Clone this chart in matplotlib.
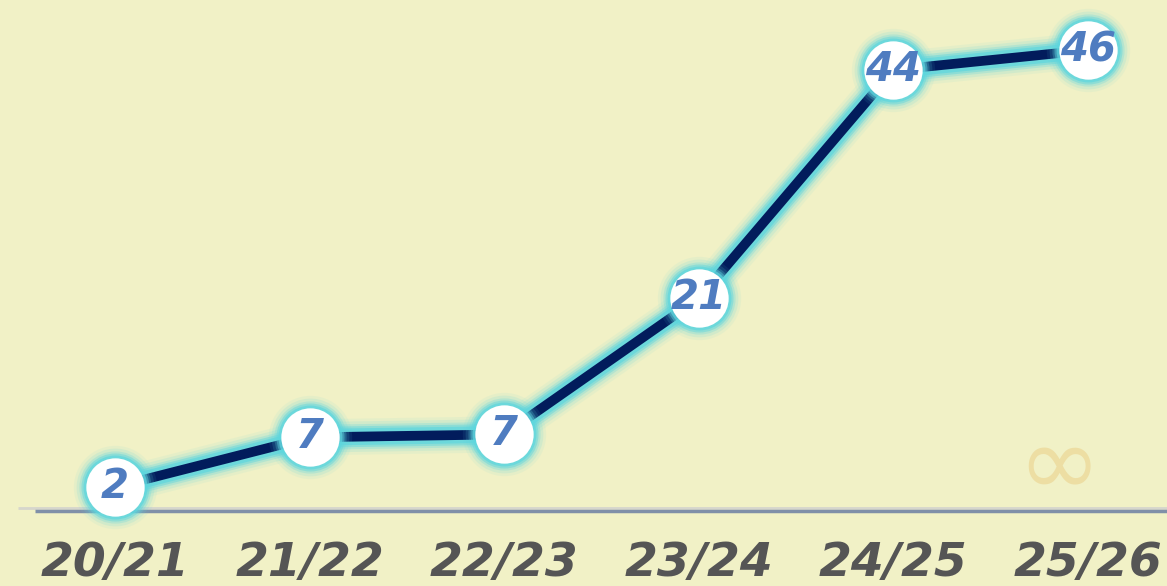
import matplotlib.pyplot as plt

# season data
seasons = ['20/21', '21/22', '22/23', '23/24', '24/25', '25/26']
values = [2, 7, 7.3, 21, 44, 46]
value_labels = ['2', '7', '7', '21', '44', '46']

bg = '#F1F1C6'
glow = '#5ED6DE'
navy = '#021C5C'
label_blue = '#4F7CC0'

fig = plt.figure(figsize=(11.67, 5.86), dpi=100)
fig.patch.set_facecolor(bg)
ax = fig.add_axes([0, 0, 1, 1])
ax.set_facecolor(bg)
ax.set_xlim(-0.591, 5.406)
ax.set_ylim(-7.97, 51.05)
ax.axis('off')

x = list(range(len(seasons)))

# axis lines
ax.plot([-0.50, 5.5], [-0.1, -0.1], color='#D6D6CC', lw=2, solid_capstyle='butt', zorder=1)
ax.plot([-0.41, 5.5], [-0.4, -0.4], color='#8090A8', lw=2.5, solid_capstyle='butt', zorder=1)

# glow under the line
for w, a in [(26, 0.08), (22, 0.14), (18, 0.25), (15, 0.45), (12, 0.7)]:
    ax.plot(x, values, color=glow, lw=w, alpha=a, solid_capstyle='round',
            solid_joinstyle='round', zorder=2)
ax.plot(x, values, color=navy, lw=7, solid_capstyle='round', solid_joinstyle='round', zorder=3)

# glow around the markers
for s, a in [(60, 0.08), (56, 0.14), (52, 0.25), (49, 0.45), (46, 0.7)]:
    ax.plot(x, values, 'o', ms=s, color=glow, alpha=a, mec='none', zorder=4)
ax.plot(x, values, 'o', ms=42, color='white', mec='none', zorder=5)

for xi, v, lab in zip(x, values, value_labels):
    ax.text(xi, v, lab, ha='center', va='center', fontsize=29, fontweight='bold',
            style='italic', color=label_blue, zorder=6)

# season labels
for xi, s in zip(x, seasons):
    ax.text(xi, -5.75, s, ha='center', va='center', fontsize=34, fontweight='bold',
            style='italic', color='#555555', zorder=6)

# faint watermark
ax.text(4.85, 3.9, '∞', ha='center', va='center', fontsize=72, color='#ECD898',
        alpha=0.75, zorder=1)

fig.savefig('out.png', dpi=100, facecolor=bg)
